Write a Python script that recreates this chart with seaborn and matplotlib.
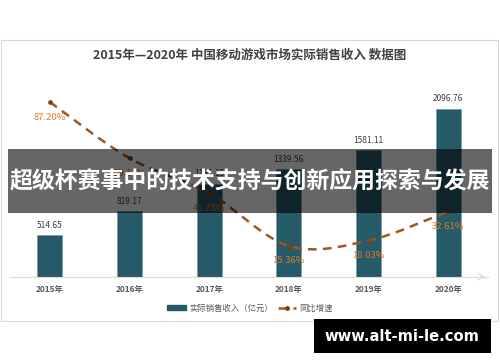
import matplotlib
matplotlib.use("Agg")
import matplotlib.pyplot as plt
import seaborn as sns
import pandas as pd
import numpy as np
from matplotlib.path import Path
from matplotlib.patches import PathPatch, Rectangle
from matplotlib.lines import Line2D
from matplotlib.patches import Patch

years = ["2015年", "2016年", "2017年", "2018年", "2019年", "2020年"]
revenue = [514.65, 819.17, 1161.15, 1339.56, 1581.11, 2096.76]
growth = [87.20, 59.17, 41.75, 15.36, 18.03, 32.61]
title = "2015年—2020年 中国移动游戏市场实际销售收入 数据图"
legend_labels = ["实际销售收入（亿元）", "同比增速"]
banner = "超级杯赛事中的技术支持与创新应用探索与发展"
watermark = "www.alt-mi-le.com"

sns.set_theme(style="white")
plt.rcParams['font.family'] = ['Noto Sans CJK SC', 'DejaVu Sans']

BAR = "#255a69"
LINE = "#a0561e"
MARK = "#7f3f0f"
PCT = "#e07b26"

df = pd.DataFrame({"year": years, "revenue": revenue, "growth": growth})

fig = plt.figure(figsize=(5.0, 3.62), dpi=100)
fig.patch.set_facecolor("white")
ax = fig.add_axes([0.02, 0.2356, 0.956, 0.5158])
ax.patch.set_alpha(0)

sns.barplot(data=df, x="year", y="revenue", ax=ax, color=BAR, width=0.314,
            edgecolor="#7aa0aa", linewidth=0.6, saturation=1)
ax.set_xlim(-0.5, 5.5)
ax.set_ylim(0, 2330)
ax.set_xlabel("")
ax.set_ylabel("")
ax.set_yticks([])
for s in ["top", "left", "right"]:
    ax.spines[s].set_visible(False)
ax.spines["bottom"].set_color("#d9d9d9")
ax.spines["bottom"].set_linewidth(0.8)
ax.tick_params(axis="x", length=0, pad=6, labelsize=6, labelcolor="#595959")
for t in ax.get_xticklabels():
    t.set_fontweight("bold")
ax.annotate("", xy=(1.0, 0), xytext=(0.98, 0), xycoords="axes fraction",
            arrowprops=dict(arrowstyle="->", color="#d9d9d9", lw=0.8))

for i, v in enumerate(revenue):
    ax.annotate(f"{v:.2f}", xy=(i, v), xytext=(0, 7.2), textcoords="offset points",
                ha="center", va="center", fontsize=6, color="#404040")

ax2 = ax.twinx()
ax2.set_ylim(0, 93.2)
ax2.set_yticks([])
for s in ["top", "left", "right", "bottom"]:
    ax2.spines[s].set_visible(False)

# smooth curve (Bezier through data points)
xs = np.arange(len(growth), dtype=float)
ys = np.array(growth, dtype=float)
pts = np.column_stack([xs, ys])
verts = [tuple(pts[0])]
codes = [Path.MOVETO]
n = len(pts)
for i in range(n - 1):
    p_prev = pts[i - 1] if i > 0 else pts[i]
    p_next2 = pts[i + 2] if i + 2 < n else pts[i + 1]
    c1 = pts[i] + (pts[i + 1] - p_prev) / 6.0
    c2 = pts[i + 1] - (p_next2 - pts[i]) / 6.0
    verts += [tuple(c1), tuple(c2), tuple(pts[i + 1])]
    codes += [Path.CURVE4] * 3
patch = PathPatch(Path(verts, codes), facecolor="none", edgecolor=LINE, lw=1.8,
                  linestyle=(0, (3.5, 2.5)))
ax2.add_patch(patch)
sns.scatterplot(x=xs, y=ys, ax=ax2, color=MARK, s=10, edgecolor=MARK, zorder=5)
for i, g in enumerate(growth):
    ax2.annotate(f"{g:.2f}%", xy=(i, g), xytext=(0, -10.8), textcoords="offset points",
                 ha="center", va="center", fontsize=6.8, color=PCT)

fig.text(0.5, 0.848, title, ha="center", va="center", fontsize=9, color="#404040",
         fontweight="bold")

handles = [Patch(facecolor=BAR, edgecolor=BAR),
           Line2D([0], [0], color=LINE, lw=1.8, linestyle=(0, (3, 3)), marker="o",
                  markersize=2.5, markerfacecolor=MARK, markeredgecolor=MARK)]
fig.legend(handles, legend_labels, loc="center", bbox_to_anchor=(0.5, 0.149), ncol=2,
           frameon=False, fontsize=6, labelcolor="#595959", handlelength=2.2,
           handleheight=0.5, columnspacing=0.6, handletextpad=0.4)

fig.patches.append(Rectangle((0.001, 0.1133), 0.994, 0.776, transform=fig.transFigure,
                             facecolor="none", edgecolor="#d9d9d9", lw=0.8, zorder=0))

fig.patches.append(Rectangle((0.016, 0.4116), 0.968, 0.1768, transform=fig.transFigure,
                             facecolor="black", alpha=0.6, edgecolor="none", zorder=20))
fig.text(0.5, 0.497, banner, ha="center", va="center", fontsize=16.5, color="white",
         fontweight="bold", zorder=21)

fig.patches.append(Rectangle((0.628, 0.0249), 0.354, 0.0939, transform=fig.transFigure,
                             facecolor="black", edgecolor="none", zorder=20))
fig.text(0.803, 0.0718, watermark, ha="center", va="center", fontsize=10.6, color="white",
         fontweight="bold", family=["DejaVu Sans"], zorder=21)

fig.savefig("out.png", dpi=100)
